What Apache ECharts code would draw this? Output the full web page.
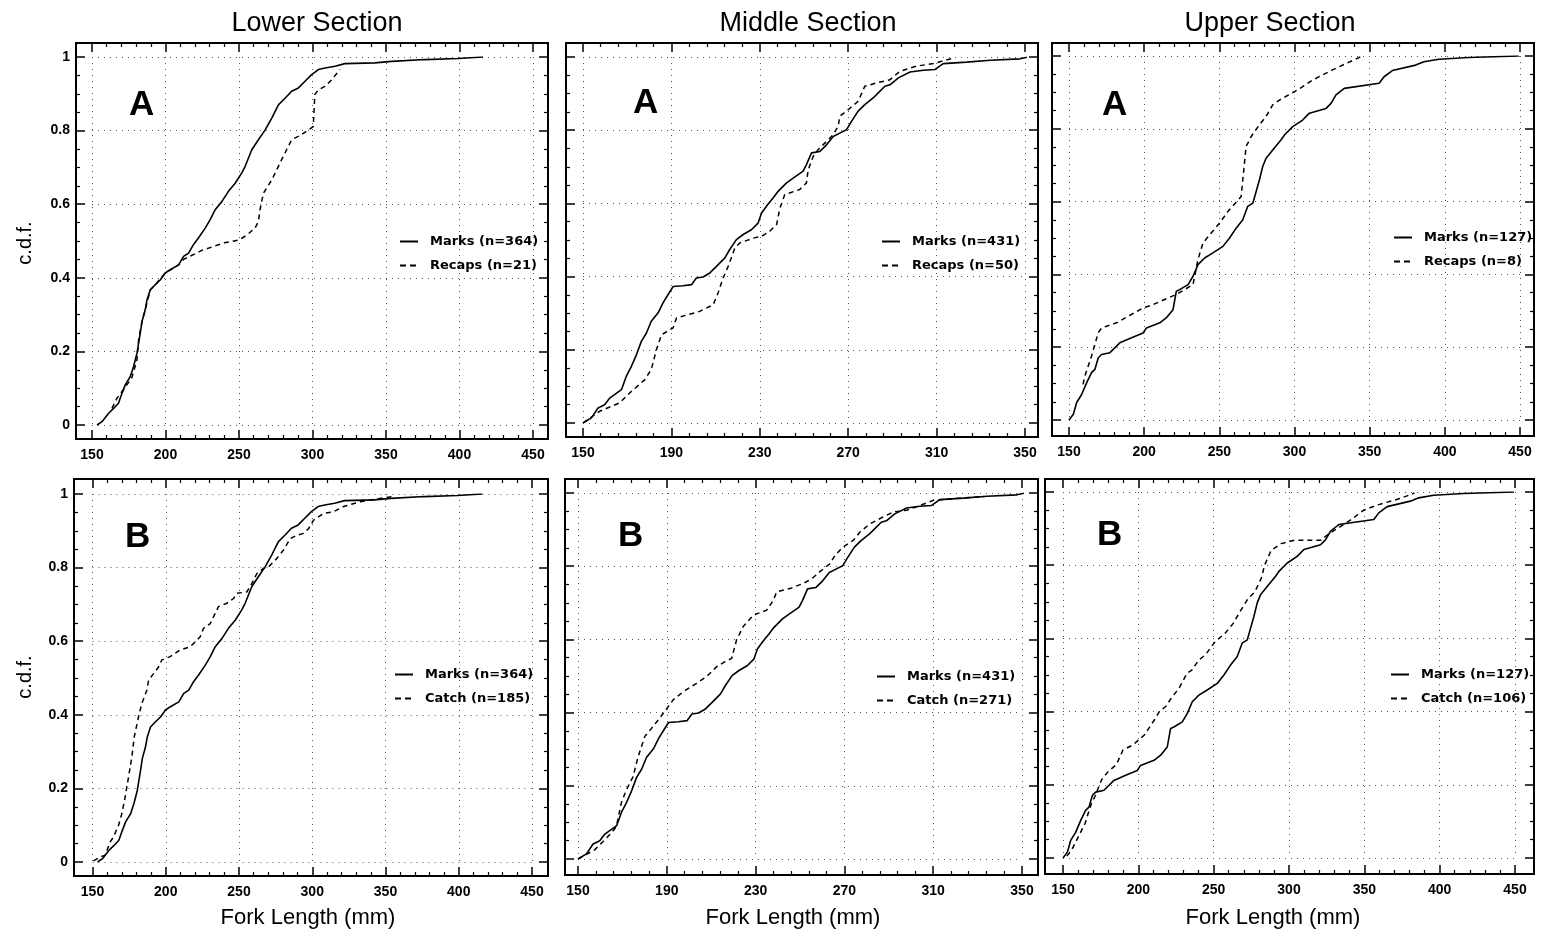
<!DOCTYPE html>
<html><head><meta charset="utf-8">
<script src="https://cdn.jsdelivr.net/npm/echarts@6/dist/echarts.min.js"></script>
<style>html,body{margin:0;padding:0;background:#fff}#c{width:1545px;height:936px}</style>
</head><body><div id="c"></div><script>
// ---------- DATA (fork length mm, cumulative fraction) ----------
const sectionTitles = ['Lower Section', 'Middle Section', 'Upper Section'];
const xTitle = 'Fork Length (mm)';
const yTitle = 'c.d.f.';
const rowLetters = ['A', 'B'];

const lowerMarks = [[153.4,0],[156.8,0.009],[161.3,0.032],[164.7,0.045],[168,0.059],[170.4,0.086],[172.6,0.109],[176,0.131],[178.3,0.159],[180.6,0.195],[182.8,0.249],[184,0.281],[186.2,0.313],[187.4,0.34],[189.6,0.367],[193,0.381],[196.4,0.394],[199.8,0.413],[203.2,0.422],[208.9,0.435],[212.3,0.458],[215.7,0.467],[219,0.49],[222.4,0.508],[227,0.535],[230.4,0.558],[233.8,0.585],[238.3,0.607],[242.8,0.635],[247.4,0.657],[251.9,0.685],[254.2,0.703],[258.7,0.748],[263.2,0.775],[267.8,0.802],[272.3,0.834],[276.8,0.87],[281.3,0.888],[285.8,0.907],[290.4,0.916],[294.9,0.934],[299.4,0.952],[304,0.966],[308.5,0.97],[315.3,0.975],[322,0.982],[342.4,0.984],[353.8,0.988],[376.4,0.993],[399,0.996],[416,1.0]];
const lowerRecaps = [[163.6,0.045],[167,0.073],[170.4,0.091],[177,0.127],[180.6,0.177],[181.7,0.231],[183,0.26],[184,0.281],[186.2,0.313],[189.6,0.367],[193,0.381],[199.8,0.413],[208.9,0.435],[212.3,0.45],[225,0.475],[240,0.495],[250,0.503],[255,0.515],[260.9,0.535],[263.2,0.553],[264.3,0.585],[266.6,0.63],[272.3,0.666],[279,0.721],[285.8,0.775],[292.6,0.789],[300.5,0.811],[301.6,0.898],[304,0.911],[308.5,0.92],[313,0.938],[318.7,0.966]];
const lowerCatch = [[150.7,0.003],[155.2,0.014],[158.6,0.018],[162,0.054],[164.3,0.068],[167.8,0.1],[170,0.131],[172.3,0.177],[174.6,0.231],[176.9,0.286],[178.5,0.34],[181.4,0.394],[183.7,0.431],[187.1,0.467],[188.3,0.494],[191.7,0.512],[195.1,0.53],[197.3,0.549],[203,0.558],[209.8,0.576],[216.7,0.585],[220.1,0.598],[223.5,0.612],[225.8,0.635],[230.4,0.648],[236,0.694],[241.7,0.703],[246.3,0.716],[248.6,0.73],[255.4,0.734],[258.8,0.757],[262.2,0.784],[266.8,0.798],[270.2,0.802],[275.9,0.825],[280.4,0.848],[285,0.879],[289.5,0.888],[294.1,0.893],[297.5,0.906],[300.9,0.929],[307.7,0.947],[314.6,0.952],[321.4,0.966],[332.8,0.979],[346.4,0.988],[355.5,0.993]];

const middleMarks = [[150,0],[153.8,0.014],[156.8,0.041],[159.8,0.05],[162.1,0.068],[167.4,0.091],[169.6,0.128],[171.9,0.155],[174.2,0.187],[176.4,0.223],[178.7,0.246],[180.9,0.278],[184,0.301],[186.2,0.328],[188.5,0.351],[190.8,0.373],[195.3,0.375],[199.1,0.378],[201.3,0.396],[204.3,0.399],[207.4,0.41],[210.4,0.428],[214.2,0.451],[216.4,0.474],[219.4,0.501],[222.5,0.515],[226.2,0.528],[229.2,0.546],[230.8,0.574],[233,0.592],[236,0.615],[238.3,0.633],[242.1,0.656],[245.1,0.669],[249.6,0.688],[251.1,0.706],[253.4,0.738],[257.2,0.742],[260.2,0.76],[263.2,0.783],[266.2,0.792],[269.2,0.801],[271.5,0.824],[274.5,0.852],[277.5,0.87],[281.3,0.888],[283.6,0.902],[286.6,0.92],[288.9,0.924],[292.7,0.943],[298,0.959],[304,0.964],[309.3,0.966],[313,0.982],[323.6,0.986],[334.2,0.991],[347.7,0.995],[351.5,1.0]];
const middleRecaps = [[150,0],[157.5,0.032],[166.6,0.055],[171.1,0.082],[177.9,0.118],[180.9,0.146],[183.2,0.2],[185.5,0.241],[190.8,0.26],[192.3,0.287],[197.5,0.296],[202.8,0.305],[208.9,0.323],[211.1,0.355],[213.4,0.396],[215.7,0.428],[218.7,0.478],[220.9,0.492],[227,0.505],[230.8,0.51],[234.5,0.524],[237.6,0.542],[239.1,0.587],[241.3,0.624],[248.1,0.638],[251.1,0.656],[251.9,0.692],[254.2,0.729],[256.4,0.747],[261,0.774],[263.2,0.788],[265.5,0.811],[266.2,0.838],[270,0.856],[274.5,0.879],[277.5,0.92],[282.8,0.929],[288.9,0.938],[293.4,0.961],[300.9,0.975],[308.5,0.982],[317.5,0.997]];
const middleCatch = [[150,0],[157.5,0.025],[161.3,0.048],[165,0.071],[167.3,0.089],[169.5,0.153],[171.8,0.189],[174.8,0.225],[177.1,0.28],[180.1,0.335],[183.8,0.362],[186.8,0.385],[190.6,0.416],[192.9,0.435],[197.4,0.457],[203.4,0.48],[207.9,0.498],[212.4,0.525],[216.2,0.539],[219.2,0.548],[221.4,0.598],[224.4,0.635],[228.9,0.666],[235,0.68],[238,0.707],[239.5,0.73],[245.5,0.739],[251.5,0.753],[255.3,0.766],[259,0.785],[263.5,0.807],[265.8,0.83],[269.5,0.853],[274.1,0.871],[277.1,0.894],[281.6,0.916],[287.6,0.935],[292.1,0.948],[298.1,0.953],[304.1,0.966],[310.1,0.98],[322,0.986],[333,0.99]];

const upperMarks = [[150,0],[152.9,0.016],[155.1,0.048],[158.4,0.07],[161.7,0.102],[165,0.13],[167.2,0.139],[169.5,0.171],[171.7,0.18],[177.2,0.185],[183.8,0.212],[191.6,0.226],[199.3,0.239],[201.5,0.253],[210.4,0.267],[214.8,0.281],[219.2,0.303],[221.4,0.354],[223.6,0.358],[229.2,0.372],[232.5,0.395],[235.8,0.427],[240.2,0.445],[245.7,0.459],[252.4,0.477],[256.8,0.5],[261.2,0.527],[265.6,0.55],[268.9,0.587],[272.3,0.596],[274.5,0.628],[276.7,0.66],[278.9,0.697],[281.1,0.719],[286.6,0.747],[291.1,0.77],[293.3,0.783],[298.8,0.806],[302.1,0.815],[305.4,0.824],[309.9,0.843],[321,0.856],[324.3,0.87],[327.6,0.893],[333.1,0.911],[356.3,0.925],[359.6,0.943],[365.1,0.96],[380.6,0.975],[386.1,0.984],[396,0.991],[415.9,0.996],[449.1,1.0]];
const upperRecaps = [[159.3,0.098],[160.6,0.121],[165,0.176],[169.5,0.24],[171.7,0.253],[181.6,0.267],[199.3,0.308],[205.9,0.317],[221.4,0.345],[232.5,0.372],[235.8,0.441],[239.1,0.486],[244.6,0.514],[250.2,0.541],[255.7,0.573],[264.5,0.614],[267.8,0.751],[271.2,0.779],[276.7,0.811],[281.1,0.834],[285.5,0.866],[290,0.879],[302.1,0.907],[312.1,0.934],[325.3,0.962],[344.1,0.998]];
const upperCatch = [[152.6,0.005],[155.9,0.023],[159.2,0.05],[164.7,0.095],[166.8,0.123],[169,0.15],[171.2,0.168],[175.6,0.214],[180,0.236],[185.4,0.255],[189.8,0.295],[196.4,0.309],[204,0.336],[210.6,0.377],[213.9,0.4],[218.2,0.414],[222.6,0.441],[227,0.464],[232.4,0.505],[235.7,0.514],[240.1,0.541],[244.5,0.555],[251,0.591],[257.6,0.614],[263,0.641],[267.4,0.673],[272.9,0.709],[277.3,0.727],[281.6,0.764],[283.8,0.8],[288.2,0.841],[294.8,0.859],[303.5,0.868],[321,0.868],[326.5,0.886],[332,0.9],[340.7,0.923],[349.4,0.95],[358.2,0.964],[373.5,0.982],[383.3,0.997]];

const marksNames = ['Marks (n=364)', 'Marks (n=431)', 'Marks (n=127)'];
const recapNames = ['Recaps (n=21)', 'Recaps (n=50)', 'Recaps (n=8)'];
const catchNames = ['Catch (n=185)', 'Catch (n=271)', 'Catch (n=106)'];
const xRanges = [[150, 450, 50], [150, 350, 40], [150, 450, 50]];
const yRange = [0, 1, 0.2];

const marksData = [lowerMarks, middleMarks, upperMarks];
const recapData = [lowerRecaps, middleRecaps, upperRecaps];
const catchData = [lowerCatch, middleCatch, upperCatch];

// ---------- LAYOUT (pixels) ----------
const layout = [
  {fL:76, fR:548, fT:43, fB:439, x0:92, x1:533, y1:57, y0:425, lx:425, ly:229, letX:129, letY:105},
  {fL:566, fR:1038, fT:43, fB:437, x0:583, x1:1025, y1:57, y0:423, lx:907, ly:229, letX:633, letY:103},
  {fL:1052, fR:1534, fT:43, fB:436, x0:1069, x1:1520, y1:56, y0:420, lx:1419, ly:225, letX:1102, letY:105},
  {fL:74, fR:548, fT:479, fB:876, x0:92.5, x1:532, y1:494, y0:862, lx:420, ly:662, letX:125, letY:537},
  {fL:565, fR:1038, fT:479, fB:875, x0:578, x1:1022, y1:493, y0:859, lx:902, ly:664, letX:618, letY:536},
  {fL:1045, fR:1534, fT:479, fB:874, x0:1063, x1:1515, y1:492, y0:858, lx:1416, ly:662, letX:1097, letY:535}
];
const titlePos = [[317, 24], [808, 24], [1270, 24]];
const xTitlePos = [[308, 918], [793, 918], [1273, 918]];
const yTitlePos = [[25, 243], [25, 677]];

const FONT = '"Liberation Sans", Arial, Helvetica, sans-serif';
const SOLID_ICON = 'path://M0,0h18v2h-18z';
const DASH_ICON = 'path://M0,0h6v2h-6z M10,0h6v2h-6z M18,0h0.01v2h-0.01z';
const grids = [], xAxes = [], yAxes = [], series = [], legends = [], graphics = [];

const tickStyle = {color:'#000', width:1.5};
const gridLine = {show:true, lineStyle:{color:'#555', width:1, type:[1,5]}};

layout.forEach((p, i) => {
  const col = i % 3, row = Math.floor(i / 3);
  const xr = xRanges[col];
  grids.push({left:p.x0, top:p.y1, width:p.x1 - p.x0, height:p.y0 - p.y1, containLabel:false});
  const baseX = {gridIndex:i, type:'value', min:xr[0], max:xr[1], interval:xr[2],
    axisLine:{show:false, onZero:false},
    axisTick:{show:true, inside:true, length:9, lineStyle:tickStyle},
    minorTick:{show:true, splitNumber:5, length:4, lineStyle:{color:'#000', width:1.2}}};
  xAxes.push(Object.assign({}, baseX, {position:'bottom', offset:p.fB - p.y0,
    axisLabel:{show:true, margin:9, color:'#000', fontSize:14, fontWeight:'bold', fontFamily:FONT},
    splitLine:gridLine}));
  xAxes.push(Object.assign({}, baseX, {position:'top', offset:p.y1 - p.fT,
    axisLabel:{show:false}, splitLine:{show:false}}));
  const baseY = {gridIndex:i, type:'value', min:yRange[0], max:yRange[1], interval:yRange[2],
    axisLine:{show:false, onZero:false},
    axisTick:{show:true, inside:true, length:9, lineStyle:tickStyle},
    minorTick:{show:true, splitNumber:4, length:4, lineStyle:{color:'#000', width:1.2}}};
  yAxes.push(Object.assign({}, baseY, {position:'left', offset:p.x0 - p.fL,
    axisLabel:{show:col === 0, margin:6, color:'#000', fontSize:14, fontWeight:'bold', fontFamily:FONT},
    splitLine:gridLine}));
  yAxes.push(Object.assign({}, baseY, {position:'right', offset:p.fR - p.x1,
    axisLabel:{show:false}, splitLine:{show:false}}));

  const mName = marksNames[col];
  const oName = row === 0 ? recapNames[col] : catchNames[col];
  const oData = row === 0 ? recapData[col] : catchData[col];
  series.push({name:mName, type:'line', xAxisIndex:2*i, yAxisIndex:2*i, data:marksData[col],
    symbol:'none', showSymbol:false, silent:true,
    lineStyle:{color:'#000', width:1.6, type:'solid'}, itemStyle:{color:'#000'}});
  series.push({name:oName, type:'line', xAxisIndex:2*i, yAxisIndex:2*i, data:oData,
    symbol:'none', showSymbol:false, silent:true,
    lineStyle:{color:'#000', width:1.5, type:[5,4]}, itemStyle:{color:'#000'}});

  legends.push({orient:'vertical', left:p.lx - 12 - 18, top:p.ly, itemWidth:18, itemHeight:2, itemGap:9,
    data:[{name:mName, icon:SOLID_ICON}, {name:oName, icon:DASH_ICON}], selectedMode:false,
    itemStyle:{color:'#000', borderWidth:0},
    textStyle:{color:'#000', fontSize:13, fontWeight:'bold', fontFamily:'"DejaVu Sans", sans-serif', padding:[0,0,0,7], lineHeight:15}});

  graphics.push({type:'rect', silent:true, z:100,
    shape:{x:p.fL, y:p.fT, width:p.fR - p.fL, height:p.fB - p.fT},
    style:{fill:'none', stroke:'#000', lineWidth:2}});
  graphics.push({type:'text', silent:true, z:100, x:p.letX, y:p.letY,
    style:{text:rowLetters[row], font:'bold 35px ' + FONT, fill:'#000', textAlign:'left', textVerticalAlign:'middle', align:'left', verticalAlign:'middle'}});
});

sectionTitles.forEach((t, c) => {
  graphics.push({type:'text', silent:true, x:titlePos[c][0], y:titlePos[c][1],
    style:{text:t, font:'27px ' + FONT, fill:'#000', textAlign:'center', textVerticalAlign:'middle', align:'center', verticalAlign:'middle'}});
  graphics.push({type:'text', silent:true, x:xTitlePos[c][0], y:xTitlePos[c][1],
    style:{text:xTitle, font:'22px ' + FONT, fill:'#000', textAlign:'center', textVerticalAlign:'middle', align:'center', verticalAlign:'middle'}});
});
yTitlePos.forEach(pos => {
  graphics.push({type:'text', silent:true, x:pos[0], y:pos[1], rotation:Math.PI / 2,
    style:{text:yTitle, font:'20px ' + FONT, fill:'#000', textAlign:'center', textVerticalAlign:'middle', align:'center', verticalAlign:'middle'}});
});

const chart = echarts.init(document.getElementById('c'), null, {renderer:'canvas'});
chart.setOption({
  backgroundColor:'#fff',
  animation:false,
  grid:grids, xAxis:xAxes, yAxis:yAxes, series:series, legend:legends, graphic:graphics
});
</script></body></html>
